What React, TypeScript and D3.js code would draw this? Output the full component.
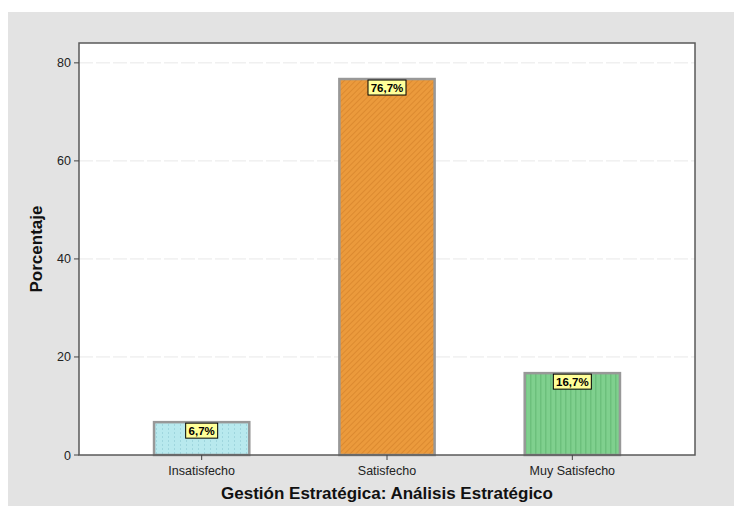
import React from "react";
import * as d3 from "d3";

const categories = ["Insatisfecho", "Satisfecho", "Muy Satisfecho"];
const percentages = [6.7, 76.7, 16.7];
const valueLabels = ["6,7%", "76,7%", "16,7%"];
const yTicks = [0, 20, 40, 60, 80];
const yTitle = "Porcentaje";
const xTitle = "Gestión Estratégica: Análisis Estratégico";

const W = 734;
const H = 506;
const plot = { left: 79, right: 695, top: 43, bottom: 455 };
const font = "'Liberation Sans', Arial, Helvetica, sans-serif";

const fills = ["url(#patCyan)", "url(#patOrange)", "url(#patGreen)"];

export default function App() {
  const x = d3
    .scaleBand<string>()
    .domain(categories)
    .range([plot.left + 30, plot.right - 30])
    .paddingInner(0.486)
    .paddingOuter(0.243);
  const y = d3.scaleLinear().domain([0, 84.05]).range([plot.bottom, plot.top]);

  return (
    <svg
      width={W}
      height={H}
      style={{ position: "absolute", left: 0, top: 0 }}
      fontFamily={font}
    >
      <defs>
        <pattern id="patCyan" width="6" height="4" patternUnits="userSpaceOnUse">
          <rect width="6" height="4" fill="#b8e9ee" />
          <rect x="0" y="0" width="1" height="2" fill="#9fd6de" />
        </pattern>
        <pattern
          id="patOrange"
          width="4"
          height="4"
          patternUnits="userSpaceOnUse"
          patternTransform="rotate(45)"
        >
          <rect width="4" height="4" fill="#eb9a3c" />
          <rect width="1" height="4" fill="#dc8a30" />
        </pattern>
        <pattern id="patGreen" width="5" height="4" patternUnits="userSpaceOnUse">
          <rect width="5" height="4" fill="#7fd08e" />
          <rect width="1.5" height="4" fill="#6cc07c" />
        </pattern>
      </defs>

      {/* background panel */}
      <rect x={8} y={12} width={W - 8} height={H - 12} fill="#e3e3e3" />
      <rect
        x={plot.left}
        y={plot.top}
        width={plot.right - plot.left}
        height={plot.bottom - plot.top}
        fill="#ffffff"
      />

      {/* gridlines */}
      {yTicks
        .filter((t) => t > 0)
        .map((t) => (
          <line
            key={`g${t}`}
            x1={plot.left}
            x2={plot.right}
            y1={y(t)}
            y2={y(t)}
            stroke="#e8e8e8"
            strokeWidth={1}
            strokeDasharray="14 3"
          />
        ))}

      {/* bars */}
      {categories.map((c, i) => {
        const bx = x(c)!;
        const bw = x.bandwidth();
        const top = y(percentages[i]);
        return (
          <rect
            key={c}
            x={bx}
            y={top}
            width={bw}
            height={plot.bottom - top}
            fill={fills[i]}
            stroke="#989898"
            strokeWidth={2.5}
          />
        );
      })}

      {/* value labels */}
      {categories.map((c, i) => {
        const cx = x(c)! + x.bandwidth() / 2;
        const top = y(percentages[i]);
        const bw = valueLabels[i].length > 4 ? 38 : 32;
        return (
          <g key={`l${c}`}>
            <rect
              x={cx - bw / 2}
              y={top + 1}
              width={bw}
              height={15}
              fill="#ffff99"
              stroke="#000"
              strokeWidth={1}
            />
            <text
              x={cx}
              y={top + 12.5}
              textAnchor="middle"
              fontSize={11.5}
              fontWeight="bold"
              fill="#000"
            >
              {valueLabels[i]}
            </text>
          </g>
        );
      })}

      {/* frame */}
      <rect
        x={plot.left}
        y={plot.top}
        width={plot.right - plot.left}
        height={plot.bottom - plot.top}
        fill="none"
        stroke="#5a5a5a"
        strokeWidth={1.5}
      />

      {/* y ticks */}
      {yTicks.map((t) => (
        <g key={`y${t}`}>
          <line
            x1={plot.left - 5}
            x2={plot.left}
            y1={y(t)}
            y2={y(t)}
            stroke="#444"
            strokeWidth={1}
          />
          <text
            x={plot.left - 8}
            y={y(t) + 4.5}
            textAnchor="end"
            fontSize={12.5}
            fill="#222"
          >
            {t}
          </text>
        </g>
      ))}

      {/* x ticks */}
      {categories.map((c) => {
        const cx = x(c)! + x.bandwidth() / 2;
        return (
          <g key={`x${c}`}>
            <line
              x1={cx}
              x2={cx}
              y1={plot.bottom}
              y2={plot.bottom + 5}
              stroke="#444"
              strokeWidth={1}
            />
            <text x={cx} y={plot.bottom + 19.5} textAnchor="middle" fontSize={12.5} fill="#222">
              {c}
            </text>
          </g>
        );
      })}

      {/* axis titles */}
      <text
        x={(plot.left + plot.right) / 2}
        y={499}
        textAnchor="middle"
        fontSize={17}
        fontWeight="bold"
        fill="#111"
      >
        {xTitle}
      </text>
      <text
        transform={`translate(42, ${(plot.top + plot.bottom) / 2}) rotate(-90)`}
        textAnchor="middle"
        fontSize={17}
        fontWeight="bold"
        fill="#111"
      >
        {yTitle}
      </text>
    </svg>
  );
}
